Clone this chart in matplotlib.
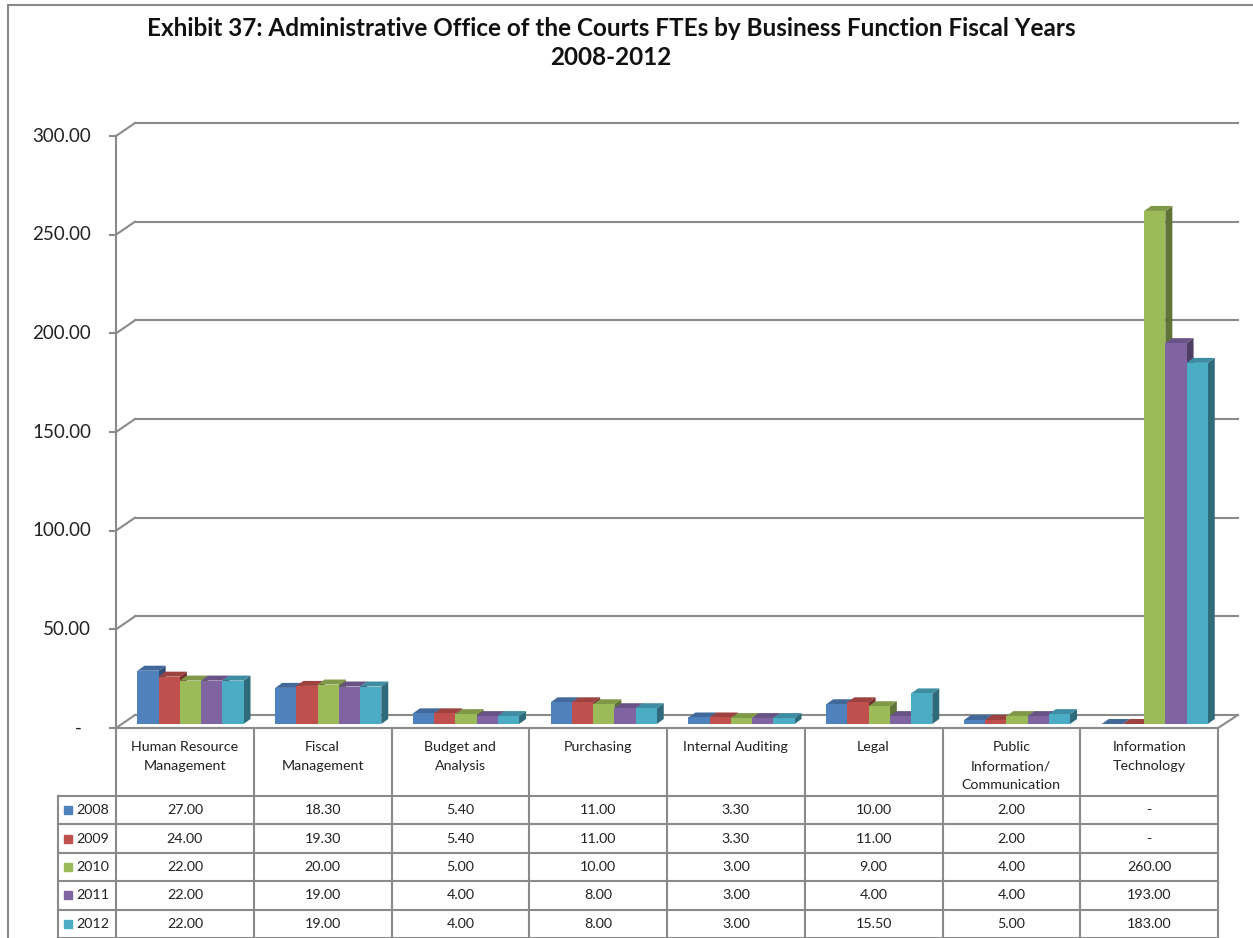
import numpy as np
import matplotlib
matplotlib.use("Agg")
import matplotlib.pyplot as plt
from matplotlib.patches import Rectangle
from matplotlib.collections import PolyCollection
from matplotlib.colors import to_rgb

plt.rcParams['font.family'] = ['Lato', 'DejaVu Sans']

categories = ["Human Resource\nManagement", "Fiscal\nManagement", "Budget and\nAnalysis",
              "Purchasing", "Internal Auditing", "Legal",
              "Public\nInformation/\nCommunication", "Information\nTechnology"]
years = ["2008", "2009", "2010", "2011", "2012"]
fte_2008 = [27.0, 18.3, 5.4, 11.0, 3.3, 10.0, 2.0, 0.0]
fte_2009 = [24.0, 19.3, 5.4, 11.0, 3.3, 11.0, 2.0, 0.0]
fte_2010 = [22.0, 20.0, 5.0, 10.0, 3.0, 9.0, 4.0, 260.0]
fte_2011 = [22.0, 19.0, 4.0, 8.0, 3.0, 4.0, 4.0, 193.0]
fte_2012 = [22.0, 19.0, 4.0, 8.0, 3.0, 15.5, 5.0, 183.0]
series = [fte_2008, fte_2009, fte_2010, fte_2011, fte_2012]
colors = ["#4F81BD", "#C0504D", "#9BBB59", "#8064A2", "#4BACC6"]
yticks = [0, 50, 100, 150, 200, 250, 300]

W, H = 1253, 938
fig = plt.figure(figsize=(W / 100, H / 100), dpi=100)

def fx(px):
    return px / W

def fy(py):
    return 1 - py / H

GRID = "#8A8A8A"
ncat = len(categories)

# plot area: x in category units, y in FTEs
x_left, x_right = 116, 1218
y_zero, y_top = 728, 136
ax = fig.add_axes([fx(x_left), fy(y_zero), fx(x_right) - fx(x_left), fy(y_top) - fy(y_zero)])
ax.set_xlim(0, ncat)
ax.set_ylim(0, 300)
ax.axis("off")

PX = (x_right - x_left) / ncat      # pixels per category
PY = (y_zero - y_top) / 300.0       # pixels per FTE

# 3D depth offsets (pixels -> data)
wall_dx, wall_dy = 19 / PX, 13 / PY
bar_sx, bar_sy = 5.6 / PX, 4 / PY
dep_dx, dep_dy = 7 / PX, 5 / PY

# back wall gridlines + side connectors
for v in yticks:
    ax.plot([0, wall_dx], [v, v + wall_dy], color=GRID, lw=1.5, clip_on=False, zorder=1)
    ax.plot([wall_dx, ncat + wall_dx * 1.05], [v + wall_dy, v + wall_dy], color=GRID, lw=1.5,
            clip_on=False, zorder=1)
    ax.plot([-6 / PX, 0], [v, v], color=GRID, lw=1.5, clip_on=False, zorder=1)
# front vertical axis
ax.plot([0, 0], [0, 300], color=GRID, lw=1.5, clip_on=False, zorder=1)
# right floor edge
ax.plot([ncat, ncat + wall_dx * 1.05], [0, wall_dy], color=GRID, lw=1.5, clip_on=False, zorder=1)

# y tick labels
for v in yticks:
    if v == 0:
        ax.text(-38 / PX, v, "-", ha="center", va="center", fontsize=13.5, color="#222222")
    else:
        ax.text(-25 / PX, v, f"{v:.2f}", ha="right", va="center", fontsize=13.5, color="#222222")

# bars with pseudo-3D faces
bw = 0.154
def shade(c, f):
    r, g, b = to_rgb(c)
    return (r * f, g * f, b * f)

for j, (vals, col) in enumerate(zip(series, colors)):
    xs = np.arange(ncat) + 0.5 + (j - 2.5) * bw + bar_sx
    ax.bar(xs, vals, width=bw, bottom=bar_sy, align="edge", color=col, linewidth=0,
           zorder=2.5 + j)
    tops, sides = [], []
    for x0, v in zip(xs, vals):
        x1 = x0 + bw
        yb, yt = bar_sy, bar_sy + v
        tops.append([(x0, yt), (x1, yt), (x1 + dep_dx, yt + dep_dy), (x0 + dep_dx, yt + dep_dy)])
        sides.append([(x1, yb), (x1, yt), (x1 + dep_dx, yt + dep_dy), (x1 + dep_dx, yb + dep_dy)])
    ax.add_collection(PolyCollection(sides, facecolors=[shade(col, 0.62)], edgecolors="none",
                                     zorder=2 + j))
    ax.add_collection(PolyCollection(tops, facecolors=[shade(col, 0.82)], edgecolors="none",
                                     zorder=2.2 + j))

# ---- data table ----
tab_bottom = 938
tax = fig.add_axes([fx(x_left), fy(tab_bottom), fx(x_right) - fx(x_left), fy(y_zero) - fy(tab_bottom)])
tax.set_xlim(0, ncat)
tax.set_ylim(tab_bottom - y_zero, 0)
tax.axis("off")

head_h = 68
row_h = (tab_bottom - y_zero - head_h) / len(years)
lab_x = (58 - x_left) / PX
row_edges = [head_h + k * row_h for k in range(len(years) + 1)]

# horizontal lines
tax.plot([0, ncat], [0, 0], color=GRID, lw=1.5, clip_on=False)
for yy in row_edges:
    tax.plot([lab_x, ncat], [yy, yy], color=GRID, lw=1.5, clip_on=False)
# vertical lines
for k in range(ncat + 1):
    tax.plot([k, k], [0, row_edges[-1]], color=GRID, lw=1.5, clip_on=False)
tax.plot([lab_x, lab_x], [head_h, row_edges[-1]], color=GRID, lw=1.5, clip_on=False)

for i, name in enumerate(categories):
    tax.text(i + 0.5, 13, name, ha="center", va="top", fontsize=10.3, linespacing=1.7,
             color="#222222")

for j, (yr, vals, col) in enumerate(zip(years, series, colors)):
    yc = head_h + (j + 0.5) * row_h
    tax.add_patch(Rectangle((lab_x + 6 / PX, yc - 4), 8 / PX, 8, color=col, clip_on=False))
    tax.text(lab_x + 18 / PX, yc, yr, ha="left", va="center", fontsize=10.3, color="#222222")
    for i, v in enumerate(vals):
        txt = "-" if v == 0 else f"{v:.2f}"
        tax.text(i + 0.5, yc, txt, ha="center", va="center", fontsize=10.3, color="#222222")

# outer chart frame
fig.patches.append(Rectangle((fx(8), fy(H + 20)), fx(W + 20) - fx(8), fy(5) - fy(H + 20),
                             transform=fig.transFigure, fill=False, edgecolor="#8A8A8A", lw=1.5))

fig.text(fx(611), fy(43),
         "Exhibit 37: Administrative Office of the Courts FTEs by Business Function Fiscal Years\n2008-2012",
         ha="center", va="center", fontsize=17.5, fontweight="bold", linespacing=1.32, color="#111111")

fig.savefig("out.png", dpi=100)
